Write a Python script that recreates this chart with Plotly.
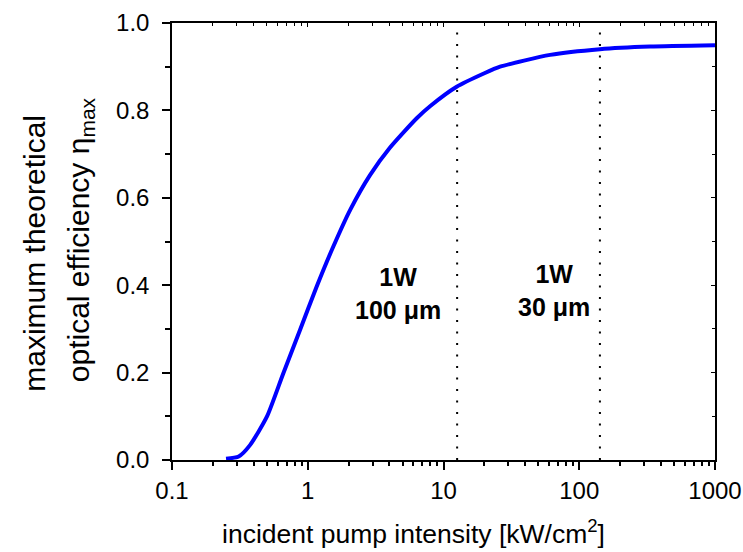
import math
import plotly.graph_objects as go

# ---- data ----
intensity = [0.25, 0.31, 0.3755, 0.5, 0.66, 0.877, 1.164, 1.54, 2.05, 2.875,
             4.04, 6.35, 8.0, 12.5, 20.0, 26.1, 61.0, 142.0, 332.0, 1000.0]
efficiency = [0.003, 0.008, 0.034, 0.099, 0.198, 0.2975, 0.397, 0.488, 0.572, 0.652,
              0.715, 0.782, 0.81, 0.854, 0.885, 0.900, 0.927, 0.940, 0.946, 0.949]

marker_lines = [12.6, 142.0]
labels = ["<b>1W<br>100 μm</b>", "<b>1W<br>30 μm</b>"]
label_x = [4.62, 65.0]
label_y = [0.382, 0.389]

x_ticks = [0.1, 1, 10, 100, 1000]
x_ticklabels = ["0.1", "1", "10", "100", "1000"]
y_ticks = [0.0, 0.2, 0.4, 0.6, 0.8, 1.0]
y_ticklabels = ["0.0", "0.2", "0.4", "0.6", "0.8", "1.0"]

FONT = "Liberation Sans, Arial, sans-serif"

fig = go.Figure()
fig.add_trace(go.Scatter(x=intensity, y=efficiency, mode="lines",
                         line=dict(color="#0000FF", width=4, shape="spline", smoothing=0.6),
                         showlegend=False, hoverinfo="skip"))
# dummy trace for the mirrored (top/right) axes
fig.add_trace(go.Scatter(x=[None], y=[None], xaxis="x2", yaxis="y2",
                         showlegend=False, hoverinfo="skip"))

for xv in marker_lines:
    fig.add_shape(type="line", xref="x", yref="paper", x0=xv, x1=xv, y0=0, y1=1,
                  line=dict(color="black", width=2, dash="2px,9.5px"))

# annotations on a log axis take log10 positions
for t, xv, yv in zip(labels, label_x, label_y):
    fig.add_annotation(x=math.log10(xv), y=yv, xref="x", yref="y", text=t, showarrow=False,
                       font=dict(family=FONT, size=25, color="black"),
                       xanchor="center", yanchor="middle", align="center")

# axis titles
fig.add_annotation(x=0.444, y=-0.165, xref="paper", yref="paper",
                   text="incident pump intensity [kW/cm<sup>2</sup>]", showarrow=False,
                   font=dict(family=FONT, size=26.5, color="black"),
                   xanchor="center", yanchor="middle")
fig.add_annotation(x=-0.2523, y=0.472, xref="paper", yref="paper",
                   text="maximum theoretical",
                   showarrow=False, textangle=-90,
                   font=dict(family=FONT, size=30, color="black"),
                   xanchor="center", yanchor="middle")
fig.add_annotation(x=-0.1694, y=0.503, xref="paper", yref="paper",
                   text="optical efficiency η<sub>max</sub>",
                   showarrow=False, textangle=-90,
                   font=dict(family=FONT, size=30, color="black"),
                   xanchor="center", yanchor="middle")

axis_common = dict(showgrid=False, zeroline=False, linecolor="black", linewidth=1.5,
                   tickcolor="black", tickwidth=1.5, automargin=False,
                   tickfont=dict(family=FONT, size=24, color="black"))

fig.update_layout(
    width=743, height=552,
    margin=dict(l=172, r=28, t=23, b=92),
    paper_bgcolor="white", plot_bgcolor="white",
    xaxis=dict(type="log", range=[-1, 3], tickvals=x_ticks, ticktext=x_ticklabels,
               ticks="outside", ticklen=8, showline=True, mirror=True,
               minor=dict(ticks="outside", ticklen=4, dtick="D1", tickcolor="black",
                          tickwidth=1.5, showgrid=False),
               **axis_common),
    yaxis=dict(range=[0, 1], tickvals=y_ticks, ticktext=y_ticklabels,
               ticks="outside", ticklen=8, showline=True, mirror=True,
               ticklabelstandoff=8,
               minor=dict(ticks="outside", ticklen=5, dtick=0.1, tickcolor="black",
                          tickwidth=1.5, showgrid=False),
               **axis_common),
    xaxis2=dict(type="log", range=[-1, 3], overlaying="x", side="top",
                tickvals=x_ticks, showticklabels=False, ticks="inside", ticklen=4,
                showgrid=False, zeroline=False, showline=False, automargin=False,
                tickcolor="black", tickwidth=1,
                minor=dict(ticks="inside", ticklen=3, dtick="D1", tickcolor="black",
                           tickwidth=1, showgrid=False)),
    yaxis2=dict(range=[0, 1], overlaying="y", side="right",
                tickvals=y_ticks, showticklabels=False, ticks="inside", ticklen=4,
                showgrid=False, zeroline=False, showline=False, automargin=False,
                tickcolor="black", tickwidth=1,
                minor=dict(ticks="inside", ticklen=3, dtick=0.1, tickcolor="black",
                           tickwidth=1, showgrid=False)),
)

fig.write_html("out.html")
